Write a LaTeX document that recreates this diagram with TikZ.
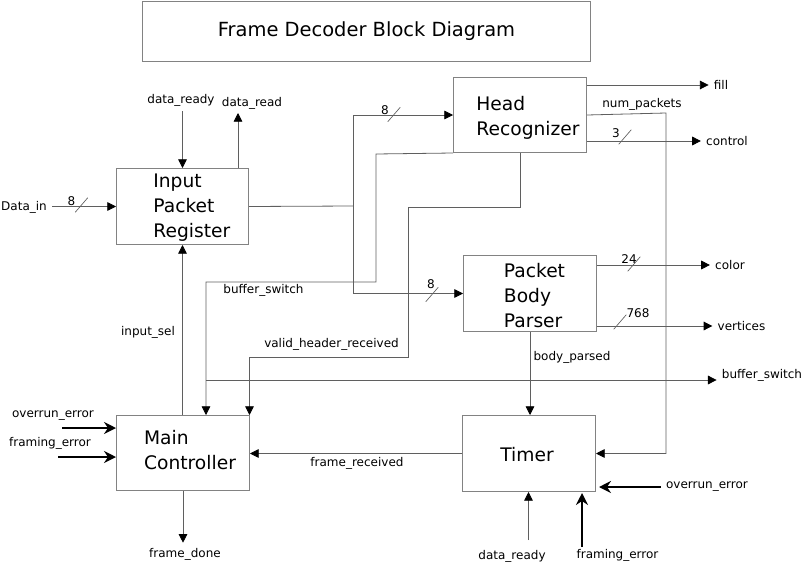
\documentclass[tikz,border=0pt]{standalone}
\usepackage{fontspec}
\setmainfont{DejaVu Sans}
\usetikzlibrary{arrows.meta,calc}

\definecolor{boxgray}{RGB}{130,130,130}
\definecolor{wiregray}{RGB}{95,95,95}

\tikzset{
  block/.style={draw=boxgray, line width=0.75pt, inner sep=0pt, anchor=north west},
  boxtext/.style={align=left, inner sep=0pt, font=\fontsize{14}{18.75}\selectfont},
  lbl/.style={font=\fontsize{9}{11}\selectfont, inner sep=1pt, outer sep=3pt},
  buslbl/.style={font=\fontsize{9}{11}\selectfont, inner sep=0pt},
  wire/.style={draw=wiregray, line width=0.6pt},
  sig/.style={wire, -{Triangle[length=6.5pt,width=6.5pt,color=black]}},
  errsig/.style={draw=black, line width=2pt, -{Stealth[length=9pt,width=9pt,inset=3pt]}},
  busslash/.style={minimum width=9.5pt, minimum height=11pt, inner sep=0pt,
    path picture={\draw[wiregray, line width=0.5pt] (path picture bounding box.south west) -- (path picture bounding box.north east);}},
}

\begin{document}
\begin{tikzpicture}[x=0.75pt,y=0.75pt,yscale=-1,xscale=1]
\useasboundingbox (0,0) rectangle (806,564);

%Title
\node[block, minimum width=336pt, minimum height=45pt, font=\fontsize{14.6}{17}\selectfont] (title) at (142,0.5) {Frame Decoder Block Diagram};

%Blocks
\node[block, minimum width=99pt, minimum height=57pt] (ipr) at (116,168) {};
\node[boxtext] (ipr-txt) at ($(ipr.center)+(9.3,0.7)$) {Input\\Packet\\Register};
\node[block, minimum width=99.75pt, minimum height=56.25pt] (head) at (453,77) {};
\node[boxtext] (head-txt) at ($(head.center)+(8,2.5)$) {Head\\Recognizer};
\node[block, minimum width=99.75pt, minimum height=57pt] (pbp) at (463,255) {};
\node[boxtext] (pbp-txt) at ($(pbp.center)+(4.5,2)$) {Packet\\Body\\Parser};
\node[block, minimum width=99.75pt, minimum height=56.25pt] (main) at (116,415) {};
\node[boxtext] (main-txt) at ($(main.center)+(7,-2.5)$) {Main\\Controller};
\node[block, minimum width=99.75pt, minimum height=57pt] (timer) at (462,415) {};
\node[boxtext] (timer-txt) at ($(timer.center)+(-2,1)$) {Timer};

%Data_in
\node[lbl] (datain) at (24,207) {Data\_in};
\draw[sig] (datain.east |- ipr.west) -- (ipr.west);
\node[busslash] (in-bus) at (81.5,205) {};
\node[buslbl] (in-bus-n) at (71.5,201) {8};

%data_ready / data_read
\node[lbl] (rdy-top) at (181,100) {data\_ready};
\draw[sig] (rdy-top.south -| ipr.north) -- (ipr.north);
\node[lbl] (rd) at (252,103) {data\_read};
\coordinate (rd-tip) at (238,113);
\draw[sig] (rd-tip |- ipr.north) -- (rd-tip);

%Register to recognizer and parser
\coordinate (split) at (353,206);
\draw[wire] (ipr.east) -- (split);
\draw[sig] (split) |- (head.west);
\draw[sig] (split) |- (pbp.west);
\node[busslash] (head-bus) at (394,114.5) {};
\node[buslbl] (head-bus-n) at (385,110) {8};
\node[busslash] (pbp-bus) at (432,294.5) {};
\node[buslbl] (pbp-bus-n) at (431,284) {8};

%buffer_switch
\coordinate (bsw) at (206,282);
\draw[sig] (head.south west) -- (376,154) |- (bsw) -- (bsw |- main.north);
\node[lbl] (bsw-lbl) at (263.5,290.5) {buffer\_switch};
\coordinate (bsj) at (206,380);
\node[lbl] (bs-out) at (762,375) {buffer\_switch};
\draw[sig] (bsj) -- (bsj -| bs-out.west);

%valid_header_received
\coordinate (vhr) at (249.5,357);
\draw[sig] (head.south) |- (408,207) |- (vhr) -- (vhr |- main.north);
\node[lbl] (vhr-lbl) at (331.5,344) {valid\_header\_received};

%input_sel / frame_done
\draw[sig] (main.north -| ipr.south) -- (ipr.south);
\node[lbl] (isel) at (148,332) {input\_sel};
\node[lbl] (fdone) at (185,554) {frame\_done};
\draw[sig] (main.south) -- (main.south |- fdone.north);

%errors into main
\node[lbl] (ovr-l) at (53,416) {overrun\_error};
\coordinate (ovr-l-tail) at (62,428);
\draw[errsig] (ovr-l-tail) -- (ovr-l-tail -| main.west);
\node[lbl] (frm-l) at (50,443) {framing\_error};
\coordinate (frm-l-tail) at (58,457);
\draw[errsig] (frm-l-tail) -- (frm-l-tail -| main.west);

%frame_received / body_parsed
\draw[sig] (timer.west) -- (timer.west -| main.east);
\node[lbl] (frec) at (357,463) {frame\_received};
\draw[sig] (pbp.south) -- (pbp.south |- timer.north);
\node[lbl] (bparsed) at (572,357) {body\_parsed};

%num_packets
\coordinate (np-bend) at (666,113);
\draw[sig] (head.east) -- (np-bend) |- (timer.east);
\node[lbl] (np) at (642,104) {num\_packets};

%outputs of recognizer
\node[lbl] (fill) at (721,85) {fill};
\draw[sig] (head.east |- fill) -- (fill);
\node[lbl] (ctrl) at (727,141) {control};
\draw[sig] (head.east |- ctrl) -- (ctrl);
\node[busslash] (ctrl-bus) at (625,137) {};
\node[buslbl] (ctrl-bus-n) at (616,133) {3};

%outputs of parser
\node[lbl] (color) at (730,265) {color};
\draw[sig] (pbp.east |- color) -- (color);
\node[busslash] (color-bus) at (634,264) {};
\node[buslbl] (color-bus-n) at (629,259) {24};
\node[lbl] (vert) at (741.5,326) {vertices};
\draw[sig] (pbp.east |- vert) -- (vert);
\node[busslash] (vert-bus) at (620,322) {};
\node[buslbl] (vert-bus-n) at (638,313) {768};

%timer inputs
\node[lbl] (rdy-bot) at (512,556) {data\_ready};
\coordinate (rdy-bot-tail) at (528.5,540);
\draw[sig] (rdy-bot-tail) -- (rdy-bot-tail |- timer.south);
\node[lbl] (frm-b) at (617.5,555) {framing\_error};
\coordinate (frm-b-tail) at (582,547);
\coordinate (frm-b-tip) at (582,493);
\draw[errsig] (frm-b-tail) -- (frm-b-tip);
\node[lbl] (ovr-r) at (707,487) {overrun\_error};
\coordinate (ovr-r-tip) at (599,487);
\draw[errsig] (ovr-r.west) -- (ovr-r-tip);
\end{tikzpicture}
\end{document}
